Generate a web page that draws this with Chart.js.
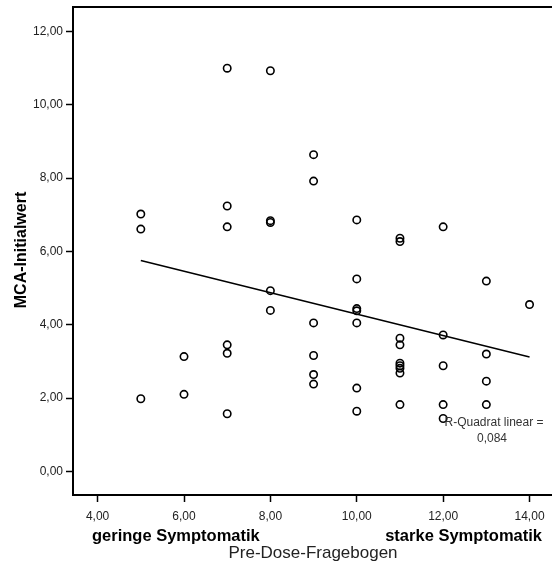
<!DOCTYPE html>
<html>
<head>
<meta charset="utf-8">
<script src="https://cdn.jsdelivr.net/npm/chart.js@4/dist/chart.umd.min.js"></script>
<style>
  html, body { margin: 0; padding: 0; background: #fff; }
  canvas { display: block; }
</style>
</head>
<body>
<canvas id="scatter" width="552" height="568"></canvas>
<script>
// Pre-Dose-Fragebogen score (x) and MCA-Initialwert (y), one entry per subject
const preDose = [
  5, 5, 5,
  6, 6,
  7, 7, 7, 7, 7, 7,
  8, 8, 8, 8, 8,
  9, 9, 9, 9, 9, 9,
  10, 10, 10, 10, 10, 10, 10,
  11, 11, 11, 11, 11, 11, 11, 11, 11,
  12, 12, 12, 12, 12,
  13, 13, 13, 13,
  14
];
const mcaInitial = [
  7.02, 6.61, 1.98,
  3.13, 2.10,
  11.00, 7.24, 6.67, 3.45, 3.22, 1.57,
  10.93, 6.84, 6.79, 4.93, 4.39,
  8.64, 7.92, 4.05, 3.16, 2.64, 2.38,
  6.86, 5.25, 4.44, 4.38, 4.05, 2.27, 1.64,
  6.36, 6.27, 3.63, 3.45, 2.95, 2.88, 2.81, 2.68, 1.82,
  6.67, 3.72, 2.88, 1.82, 1.44,
  5.19, 3.20, 2.46, 1.82,
  4.55
];
// linear fit line endpoints
const fitX = [5, 14];
const fitY = [5.75, 3.12];
const rSquared = '0,084';

const xTicks = [4, 6, 8, 10, 12, 14];
const yTicks = [0, 2, 4, 6, 8, 10, 12];

const fmt = v => v.toFixed(2).replace('.', ',');
const FONT = '"Liberation Sans", Arial, sans-serif';

const framePlugin = {
  id: 'frame',
  afterDraw(chart) {
    const ctx = chart.ctx;
    const a = chart.chartArea;
    ctx.save();
    // top frame line
    ctx.strokeStyle = '#000';
    ctx.lineWidth = 2;
    ctx.beginPath();
    ctx.moveTo(a.left - 1, a.top);
    ctx.lineTo(chart.width, a.top);
    ctx.stroke();

    ctx.fillStyle = '#000';
    // y title
    ctx.save();
    ctx.translate(22, 250);
    ctx.rotate(-Math.PI / 2);
    ctx.font = 'bold 16px ' + FONT;
    ctx.textAlign = 'center';
    ctx.textBaseline = 'middle';
    ctx.fillText('MCA-Initialwert', 0, 0);
    ctx.restore();

    // x end labels
    ctx.font = 'bold 16.5px ' + FONT;
    ctx.textBaseline = 'middle';
    ctx.textAlign = 'left';
    ctx.fillText('geringe Symptomatik', 92, 536);
    ctx.textAlign = 'right';
    ctx.fillText('starke Symptomatik', 542, 536);

    // x title
    ctx.font = '17px ' + FONT;
    ctx.textAlign = 'center';
    ctx.fillStyle = '#222';
    ctx.fillText('Pre-Dose-Fragebogen', 313, 553);

    // R-squared note
    ctx.font = '12px ' + FONT;
    ctx.fillStyle = '#333';
    ctx.fillText('R-Quadrat linear =', 494, 423);
    ctx.fillText(rSquared, 492, 439);
    ctx.restore();
  }
};

new Chart(document.getElementById('scatter'), {
  type: 'scatter',
  data: {
    datasets: [
      {
        data: preDose.map((x, i) => ({ x: x, y: mcaInitial[i] })),
        pointStyle: 'circle',
        pointRadius: 3.7,
        pointBorderWidth: 1.6,
        borderColor: '#000',
        backgroundColor: 'rgba(0,0,0,0)',
        order: 1
      },
      {
        type: 'line',
        data: fitX.map((x, i) => ({ x: x, y: fitY[i] })),
        borderColor: '#000',
        borderWidth: 1.5,
        pointRadius: 0,
        fill: false,
        order: 2
      }
    ]
  },
  options: {
    responsive: false,
    animation: false,
    layout: { autoPadding: false, padding: { top: 7, right: 0, left: 0, bottom: 0 } },
    plugins: {
      legend: { display: false },
      tooltip: { enabled: false }
    },
    scales: {
      x: {
        type: 'linear',
        min: 3.43,
        max: 14.52,
        afterFit(scale) {
          scale.height = 73;
          scale.paddingLeft = 0;
          scale.paddingRight = 0;
        },
        afterBuildTicks(scale) { scale.ticks = xTicks.map(v => ({ value: v })); },
        border: { display: true, color: '#000', width: 2 },
        grid: { drawOnChartArea: false, drawTicks: true, tickLength: 7, tickColor: '#000', tickWidth: 1.5 },
        ticks: {
          color: '#222',
          font: { family: FONT, size: 12 },
          padding: 7,
          maxRotation: 0,
          callback: v => fmt(v)
        }
      },
      y: {
        type: 'linear',
        min: -0.647,
        max: 12.67,
        afterFit(scale) {
          scale.width = 73;
          scale.paddingTop = 0;
          scale.paddingBottom = 0;
        },
        afterBuildTicks(scale) { scale.ticks = yTicks.map(v => ({ value: v })); },
        border: { display: true, color: '#000', width: 2 },
        grid: { drawOnChartArea: false, drawTicks: true, tickLength: 7, tickColor: '#000', tickWidth: 1.5 },
        ticks: {
          color: '#222',
          font: { family: FONT, size: 12 },
          padding: 3,
          callback: v => fmt(v)
        }
      }
    }
  },
  plugins: [framePlugin]
});
</script>
</body>
</html>
